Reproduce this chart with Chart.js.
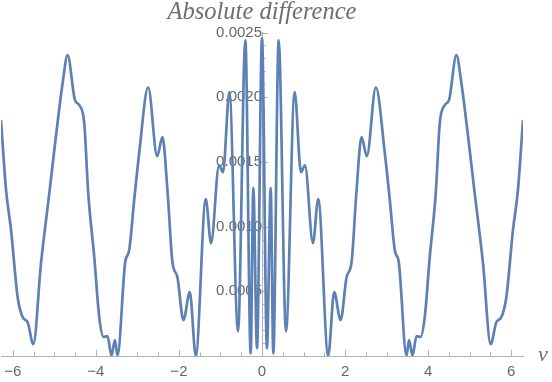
<!DOCTYPE html>
<html>
<head>
<meta charset="utf-8">
<script src="https://cdn.jsdelivr.net/npm/chart.js@4/dist/chart.umd.min.js"></script>
<style>
  html, body { margin: 0; padding: 0; background: #fff; }
  #wrap { width: 552px; height: 382px; }
</style>
</head>
<body>
<div id="wrap"><canvas id="chart" width="552" height="382"></canvas></div>
<script>
// nu values (x) and absolute difference (y)
const nu = [
  -6.283, -6.161, -6.041, -5.882, -5.762, -5.642, -5.505, -5.320, -5.120, -5.000,
  -4.800, -4.680, -4.502, -4.399, -4.279, -4.183, -4.038, -3.918, -3.815, -3.719,
  -3.623, -3.540, -3.478, -3.293, -3.197, -3.077, -2.957, -2.740, -2.524, -2.397,
  -2.276, -2.156, -2.036, -1.892, -1.738, -1.594, -1.353, -1.226, -1.034, -0.938,
  -0.786, -0.577, -0.401, -0.272, -0.209, -0.120,
  0,
  0.120, 0.209, 0.272, 0.401, 0.577, 0.786, 0.938, 1.034, 1.226, 1.353,
  1.594, 1.738, 1.892, 2.036, 2.156, 2.276, 2.397, 2.524, 2.740, 2.957,
  3.077, 3.197, 3.293, 3.478, 3.540, 3.623, 3.719, 3.815, 3.918, 4.038,
  4.183, 4.279, 4.399, 4.502, 4.680, 4.800, 5.000, 5.120, 5.320, 5.505,
  5.642, 5.762, 5.882, 6.041, 6.161, 6.283
];
const absDiff = [
  0.001822, 0.001281, 0.000972, 0.000454, 0.000300, 0.000261, 0.000091, 0.000717, 0.001258, 0.001590,
  0.002108, 0.002325, 0.001977, 0.001938, 0.001799, 0.001258, 0.000764, 0.000300, 0.000147, 0.000153,
  0.000004, 0.000122, 0.000004, 0.000725, 0.000818, 0.001204, 0.001567, 0.002077, 0.001544, 0.001691,
  0.001281, 0.000725, 0.000609, 0.000277, 0.000493, 0.000004, 0.001212, 0.000872, 0.001474, 0.001420,
  0.002040, 0.000190, 0.002440, 0.000020, 0.001300, 0.000060,
  0.002456,
  0.000060, 0.001300, 0.000020, 0.002440, 0.000190, 0.002040, 0.001420, 0.001474, 0.000872, 0.001212,
  0.000004, 0.000493, 0.000277, 0.000609, 0.000725, 0.001281, 0.001691, 0.001544, 0.002077, 0.001567,
  0.001204, 0.000818, 0.000725, 0.000004, 0.000122, 0.000004, 0.000153, 0.000147, 0.000300, 0.000764,
  0.001258, 0.001799, 0.001938, 0.001977, 0.002325, 0.002108, 0.001590, 0.001258, 0.000717, 0.000091,
  0.000261, 0.000300, 0.000454, 0.000972, 0.001281, 0.001822
];
const xLabelled = [-6, -4, -2, 0, 2, 4, 6];
const yLabelled = [0.0005, 0.0010, 0.0015, 0.0020, 0.0025];

const axisGray = '#b3b3b3';
const labelGray = '#666666';
const lineBlue = '#5e81b5';

const isOn = (v, list, eps) => list.some(t => Math.abs(t - v) < eps);

// Mathematica style ticks: pointing into the plot, long for labelled ones
const innerTicks = {
  id: 'innerTicks',
  beforeDatasetsDraw(chart) {
    const { ctx, chartArea, scales: { x, y } } = chart;
    const x0 = x.getPixelForValue(0);
    ctx.save();
    ctx.strokeStyle = axisGray;
    ctx.lineWidth = 1;
    ctx.beginPath();
    x.ticks.forEach(t => {
      const px = Math.round(x.getPixelForValue(t.value)) + 0.5;
      const len = isOn(t.value, xLabelled, 1e-6) ? 6 : 3.5;
      ctx.moveTo(px, chartArea.bottom);
      ctx.lineTo(px, chartArea.bottom - len);
    });
    y.ticks.forEach(t => {
      if (t.value < 1e-7) return;
      const py = Math.round(y.getPixelForValue(t.value)) + 0.5;
      const len = isOn(t.value, yLabelled, 1e-8) ? 6 : 3.5;
      ctx.moveTo(x0, py);
      ctx.lineTo(x0 + len, py);
    });
    ctx.stroke();
    ctx.restore();
  },
  afterDraw(chart) {
    const { ctx, chartArea } = chart;
    ctx.save();
    ctx.font = 'italic 22px "Liberation Serif"';
    ctx.fillStyle = '#6e6e6e';
    ctx.textAlign = 'left';
    ctx.textBaseline = 'alphabetic';
    ctx.fillText('ν', chartArea.right + 15, chartArea.bottom + 5);
    ctx.restore();
  }
};

new Chart(document.getElementById('chart'), {
  type: 'line',
  data: {
    datasets: [{
      data: nu.map((v, i) => ({ x: v, y: absDiff[i] })),
      borderColor: lineBlue,
      borderWidth: 2.7,
      pointRadius: 0,
      cubicInterpolationMode: 'monotone',
      fill: false
    }]
  },
  options: {
    responsive: false,
    animation: false,
    layout: { padding: { left: 1, right: 29, top: 0, bottom: 0 } },
    plugins: {
      legend: { display: false },
      tooltip: { enabled: false },
      title: {
        display: true,
        text: 'Absolute difference',
        fullSize: false,
        color: '#6e6e6e',
        font: { family: '"Liberation Serif"', style: 'italic', size: 24.5, weight: 'normal', lineHeight: 1 },
        padding: { top: 0, bottom: 8 }
      }
    },
    scales: {
      x: {
        type: 'linear',
        min: -6.283,
        max: 6.283,
        grid: { display: false, drawTicks: false },
        border: { display: true, color: axisGray, width: 1 },
        afterFit(scale) {
          scale.height = 26;
          scale.paddingLeft = 0;
          scale.paddingRight = 0;
        },
        ticks: {
          stepSize: 0.5,
          includeBounds: false,
          autoSkip: false,
          maxRotation: 0,
          padding: 7,
          color: labelGray,
          font: { family: '"Liberation Sans"', size: 15 },
          callback: v => isOn(v, xLabelled, 1e-6) ? String(Math.round(v)).replace('-', '\u2212') : ''
        }
      },
      y: {
        type: 'linear',
        position: { x: 0 },
        min: 0,
        max: 0.0025,
        grid: { display: false, drawTicks: false },
        border: { display: true, color: axisGray, width: 1 },
        ticks: {
          stepSize: 0.0001,
          autoSkip: false,
          padding: 5,
          color: labelGray,
          font: { family: '"Liberation Sans"', size: 15 },
          callback: v => isOn(v, yLabelled, 1e-8) ? v.toFixed(4) : ''
        }
      }
    }
  },
  plugins: [innerTicks]
});
</script>
</body>
</html>
